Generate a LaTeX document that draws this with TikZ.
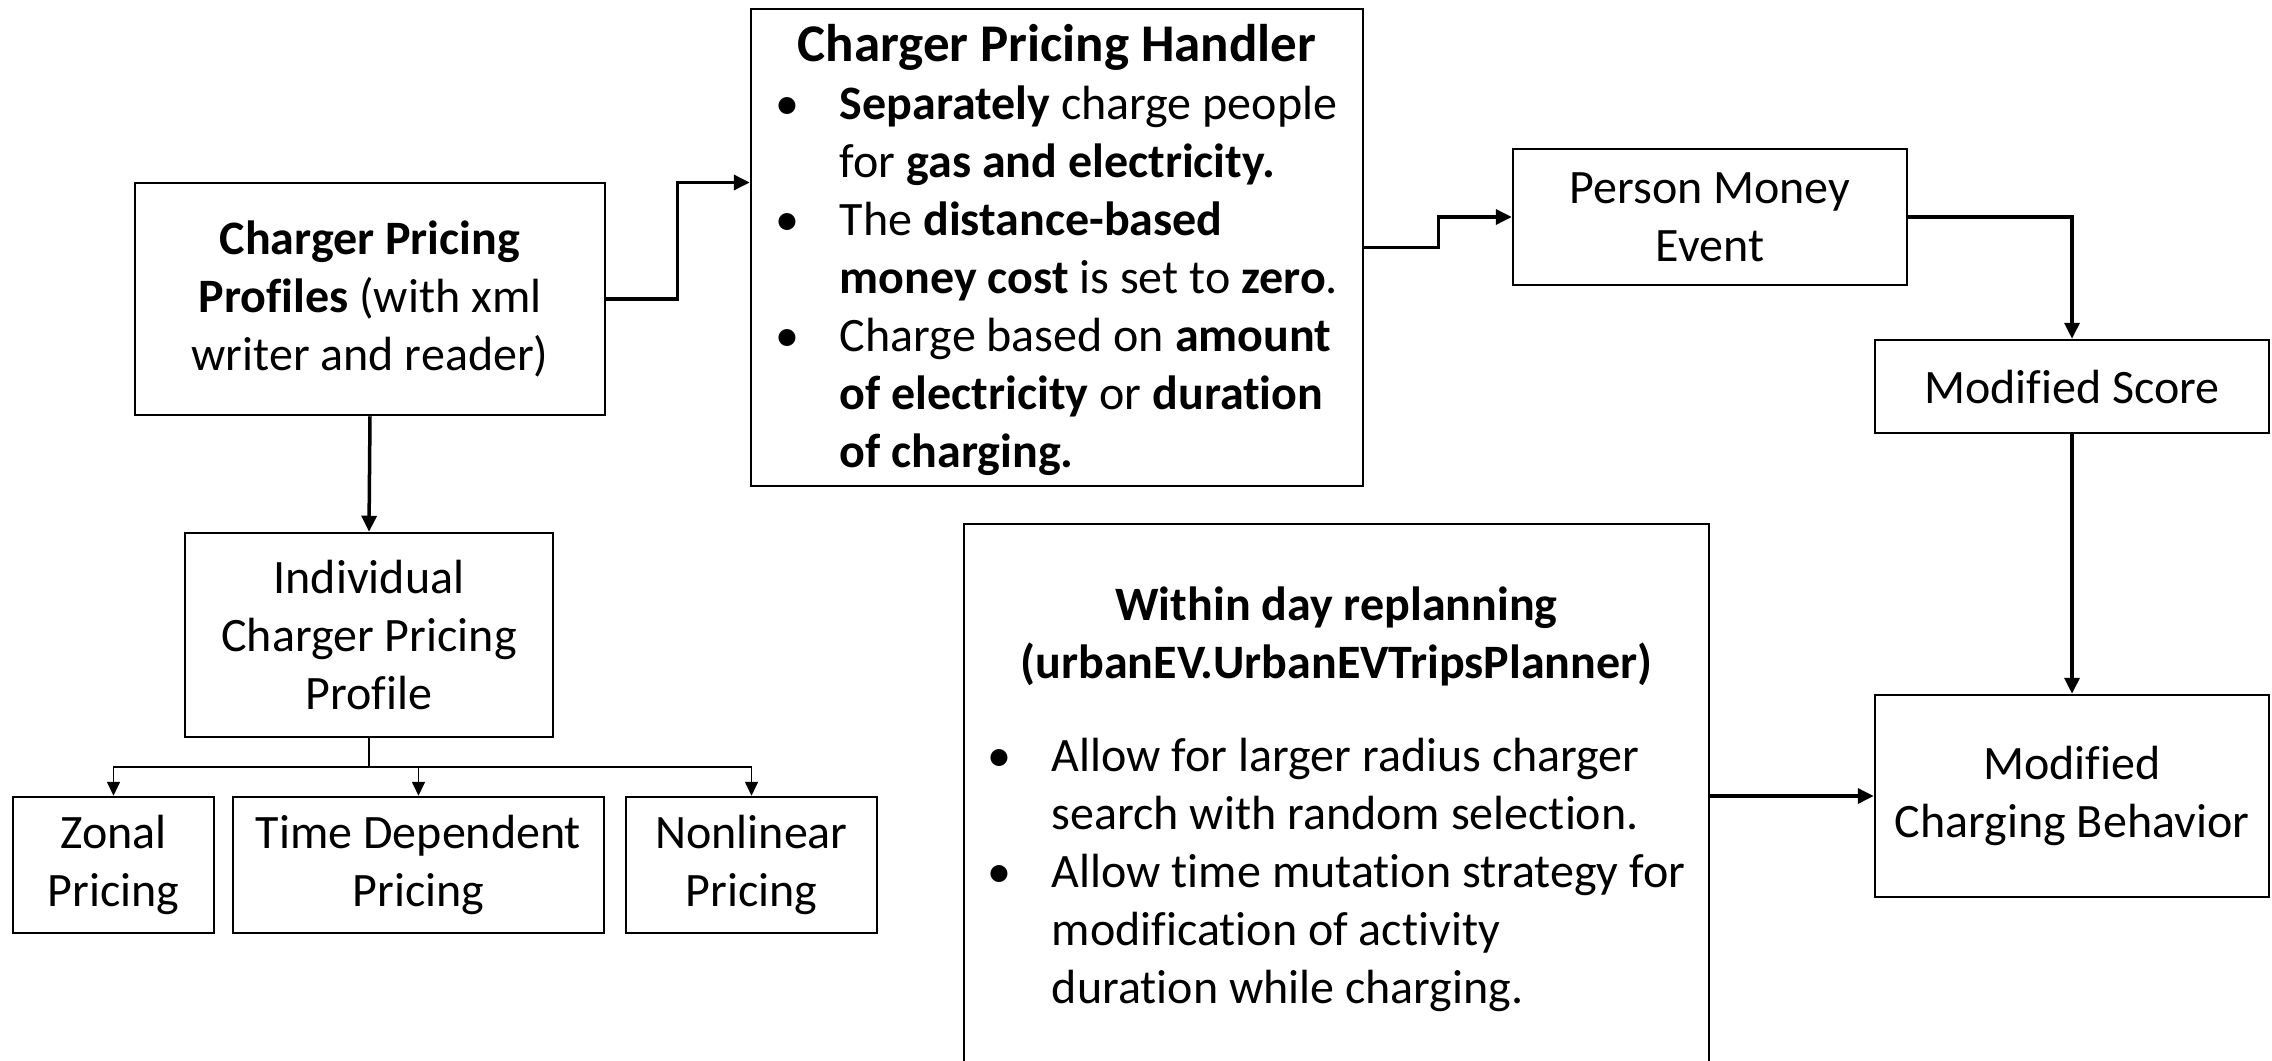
\documentclass[tikz,border=0pt]{standalone}
\usepackage{fontspec}
\setmainfont{Carlito}[Ligatures=CommonOff]
\usetikzlibrary{arrows.meta}
\newcommand{\bulitem}{\makebox[64pt][l]{\textbullet}}
\newcommand{\contline}{\hspace*{64pt}}
\begin{document}
\begin{tikzpicture}[x=1pt,y=-1pt,
  box/.style={draw, line width=2.5pt, inner sep=0pt, align=center,
    font=\fontsize{48}{58}\selectfont},
  thickarrow/.style={line width=3.5pt, -{Triangle[length=16pt,width=15pt]}},
  thinline/.style={line width=1.6pt},
  thinarrow/.style={line width=1.6pt, -{Triangle[length=14pt,width=13pt]}}
]
\useasboundingbox (0,0) rectangle (2272,1060);
\fill[white] (0,0) rectangle (2272,1060);
\clip (0,0) rectangle (2272,1060);

% boxes
\node[box, minimum width=470pt, minimum height=232pt] (prof) at (370,299)
  {\textbf{Charger Pricing}\\\textbf{Profiles} (with xml\\writer and reader)};
\node[box, minimum width=612pt, minimum height=477pt] (handler) at (1057,247.5)
  {\raisebox{-5pt}[\height][\depth]{\begin{tabular}{@{}l@{}}
   \multicolumn{1}{@{}c@{}}{\fontsize{53}{58}\selectfont\textbf{Charger Pricing Handler}}\\
   \bulitem\textbf{Separately} charge people\\
   \contline for \textbf{gas and electricity.}\\
   \bulitem The \textbf{distance-based}\\
   \contline\textbf{money cost} is set to \textbf{zero}.\\
   \bulitem Charge based on \textbf{amount}\\
   \contline\textbf{of electricity} or \textbf{duration}\\
   \contline\textbf{of charging.}
   \end{tabular}}};
\node[box, minimum width=394pt, minimum height=136pt] (pm) at (1710,217)
  {Person Money\\Event};
\node[box, minimum width=394pt, minimum height=93pt] (ms) at (2072,386.5)
  {Modified Score};
\node[box, minimum width=394pt, minimum height=202pt] (mcb) at (2072,796)
  {Modified\\Charging Behavior};
\node[box, minimum width=745pt, minimum height=544pt] (within) at (1336.5,796)
  {\raisebox{-4pt}[\height][\depth]{\begin{tabular}{@{}l@{}}
   \multicolumn{1}{@{}c@{}}{\textbf{Within day replanning}}\\
   \multicolumn{1}{@{}c@{}}{\textbf{(urbanEV.UrbanEVTripsPlanner)}}\\[35pt]
   \bulitem Allow for larger radius charger\\
   \contline search with random selection.\\
   \bulitem Allow time mutation strategy for\\
   \contline modification of activity\\
   \contline duration while charging.
   \end{tabular}}};
\node[box, minimum width=368pt, minimum height=204pt] (indiv) at (369,635)
  {Individual\\Charger Pricing\\Profile};
\node[box, minimum width=201pt, minimum height=136pt] (zonal) at (113.5,865)
  {Zonal\\Pricing};
\node[box, minimum width=371pt, minimum height=136pt] (timedep) at (418.5,865)
  {Time Dependent\\Pricing};
\node[box, minimum width=251pt, minimum height=136pt] (nonlin) at (751.5,865)
  {Nonlinear\\Pricing};

% connectors
\draw[thickarrow] (prof.east) -- ++(71,0) |- ([yshift=65pt]handler.west);
\draw[thickarrow] (handler.east) -- ++(74,0) |- (pm.west);
\draw[thickarrow] (pm.east) -| (ms.north);
\draw[thickarrow] (ms.south) -- (mcb.north);
\draw[thickarrow] (within.east) -- (mcb.west);
\draw[thickarrow] (prof.south) -- (indiv.north);

\coordinate (split) at (369,767);
\draw[thinline] (indiv.south) -- (split);
\draw[thinarrow] (split) -| (zonal.north);
\draw[thinarrow] (split) -| (timedep.north);
\draw[thinarrow] (split) -| (nonlin.north);
\end{tikzpicture}
\end{document}
